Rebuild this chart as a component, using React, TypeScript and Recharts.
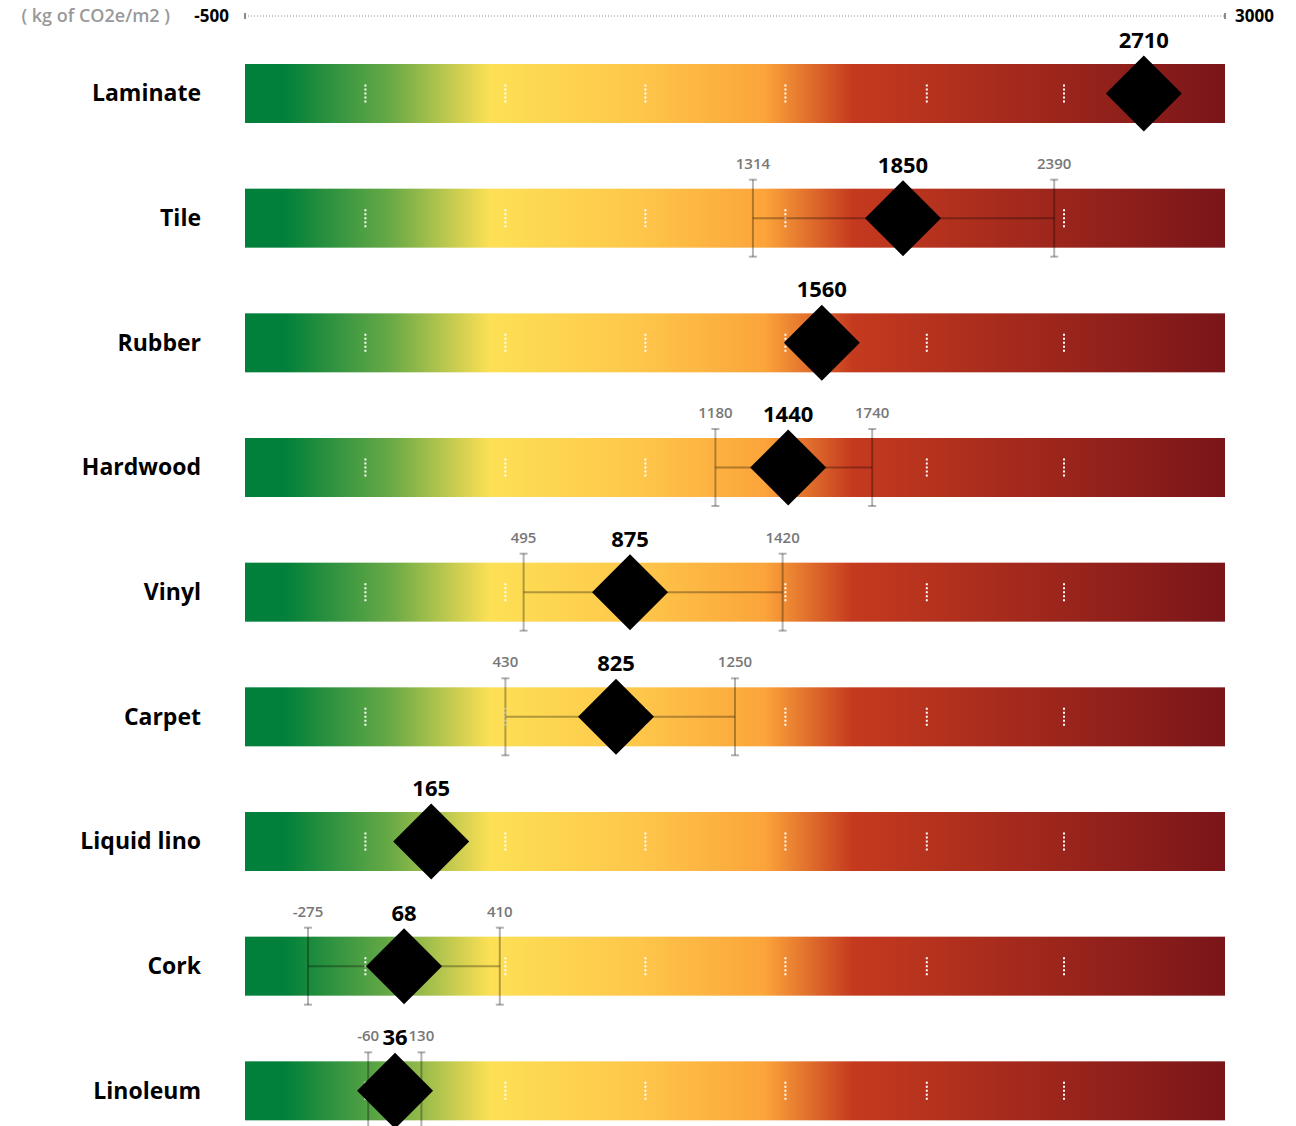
import { ComposedChart, Bar, XAxis, YAxis } from 'recharts';

// chart data
const materials = ['Laminate', 'Tile', 'Rubber', 'Hardwood', 'Vinyl', 'Carpet', 'Liquid lino', 'Cork', 'Linoleum'];
const values = [2710, 1850, 1560, 1440, 875, 825, 165, 68, 36];
const lows: (number | null)[] = [null, 1314, null, 1180, 495, 430, null, -275, -60];
const highs: (number | null)[] = [null, 2390, null, 1740, 1420, 1250, null, 410, 130];
const axisTicks = [-500, 3000];
const barTicks = [-70, 430, 930, 1430, 1935, 2425];
const unitLabel = '( kg of CO2e/m2 )';

const xMin = axisTicks[0];
const xMax = axisTicks[1];

const rows = materials.map((name, i) => ({
  name,
  full: [xMin, xMax],
  value: [xMin, values[i]],
  v: values[i],
  range: lows[i] != null ? [lows[i], highs[i]] : null,
  lo: lows[i],
  hi: highs[i],
}));

const FONT = '"Open Sans", "Noto Sans", sans-serif';
const BAR = 59;

const GradientBar = (props: any) => {
  const { x, y, width, height } = props;
  return <rect x={x} y={y} width={width} height={height} fill="url(#heat)" />;
};

const DotTick = (props: any) => {
  const { x, y, width, height } = props;
  const cx = x + width;
  const cy = y + height / 2;
  return (
    <line x1={cx} x2={cx} y1={cy - 9} y2={cy + 9} stroke="#fff" strokeWidth={2} strokeDasharray="2 2" />
  );
};

const RangeShape = (props: any) => {
  const { x, y, width, height, payload } = props;
  if (!payload || payload.range == null) return null;
  const cy = y + height / 2;
  const x1 = x;
  const x2 = x + width;
  const top = y - 9;
  const bot = y + height + 9;
  const c = 'rgba(0,0,0,0.3)';
  return (
    <g>
      <line x1={x1} x2={x2} y1={cy} y2={cy} stroke={c} strokeWidth={2} />
      {[x1, x2].map((px, k) => (
        <g key={k}>
          <line x1={px} x2={px} y1={top} y2={bot} stroke={c} strokeWidth={2} />
          <line x1={px - 4} x2={px + 4} y1={top} y2={top} stroke={c} strokeWidth={2} />
          <line x1={px - 4} x2={px + 4} y1={bot} y2={bot} stroke={c} strokeWidth={2} />
        </g>
      ))}
      <text x={x1} y={y - 20} textAnchor="middle" fontFamily={FONT} fontWeight={600} fontSize={15} fill="#777">
        {payload.lo}
      </text>
      <text x={x2} y={y - 20} textAnchor="middle" fontFamily={FONT} fontWeight={600} fontSize={15} fill="#777">
        {payload.hi}
      </text>
    </g>
  );
};

const DiamondShape = (props: any) => {
  const { x, y, width, height, payload } = props;
  const cx = x + width;
  const cy = y + height / 2;
  const r = 38;
  return (
    <g>
      <polygon points={`${cx},${cy - r} ${cx + r},${cy} ${cx},${cy + r} ${cx - r},${cy}`} fill="#000" />
      <text x={cx} y={y - 16} textAnchor="middle" fontFamily={FONT} fontWeight={700} fontSize={22} fill="#000">
        {payload.v}
      </text>
    </g>
  );
};

const XTick = (props: any) => {
  const { x, y, payload } = props;
  const first = payload.value === xMin;
  return (
    <g>
      <line x1={x} x2={x} y1={y - 3} y2={y + 3} stroke="#888" strokeWidth={2} />
      <text
        x={first ? x - 16 : x + 10}
        y={y + 6}
        textAnchor={first ? 'end' : 'start'}
        fontFamily={FONT}
        fontWeight={700}
        fontSize={17}
        fill="#000"
      >
        {payload.value}
      </text>
      {first && (
        <text x={x - 75} y={y + 6} textAnchor="end" fontFamily={FONT} fontWeight={600} fontSize={18} fill="#999">
          {unitLabel}
        </text>
      )}
    </g>
  );
};

const YTick = (props: any) => {
  const { x, y, payload } = props;
  return (
    <text x={x - 42} y={y + 8} textAnchor="end" fontFamily={FONT} fontWeight={700} fontSize={23} fill="#000">
      {payload.value}
    </text>
  );
};

export default function App() {
  return (
    <div style={{ position: 'absolute', left: 0, top: 0, background: '#fff' }}>
      <ComposedChart
        width={1296}
        height={1153}
        data={rows}
        layout="vertical"
        margin={{ top: 0, right: 71, bottom: 0, left: 0 }}
        barSize={BAR}
        barGap={-BAR}
      >
        <defs>
          <linearGradient id="heat" x1="0" y1="0" x2="1" y2="0">
            <stop offset="0%" stopColor="#00803a" />
            <stop offset="4%" stopColor="#00803a" />
            <stop offset="15%" stopColor="#6aaa46" />
            <stop offset="25%" stopColor="#fde055" />
            <stop offset="40%" stopColor="#fec74a" />
            <stop offset="53%" stopColor="#fca43a" />
            <stop offset="62%" stopColor="#c53a1f" />
            <stop offset="100%" stopColor="#7a1519" />
          </linearGradient>
        </defs>
        <XAxis
          type="number"
          orientation="top"
          domain={[xMin, xMax]}
          ticks={axisTicks}
          height={16}
          tickSize={0}
          tickMargin={0}
          axisLine={{ stroke: '#888', strokeDasharray: '1 2' }}
          tick={<XTick />}
          allowDataOverflow
        />
        <YAxis
          type="category"
          dataKey="name"
          width={245}
          axisLine={false}
          tickLine={false}
          tickSize={0}
          padding={{ top: 15, bottom: 0 }}
          tick={<YTick />}
        />
        <Bar dataKey="full" shape={<GradientBar />} isAnimationActive={false} />
        {barTicks.map((t) => (
          <Bar key={t} dataKey={() => [xMin, t]} shape={<DotTick />} isAnimationActive={false} />
        ))}
        <Bar dataKey="range" shape={<RangeShape />} isAnimationActive={false} />
        <Bar dataKey="value" shape={<DiamondShape />} isAnimationActive={false} />
      </ComposedChart>
    </div>
  );
}
